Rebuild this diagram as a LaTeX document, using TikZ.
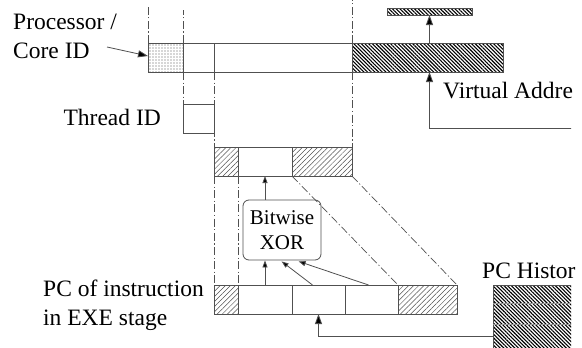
\documentclass[tikz,border=0pt]{standalone}
\usepackage{fontspec}
\setmainfont{Liberation Serif}
\usetikzlibrary{patterns.meta,arrows.meta,calc}
\definecolor{ln}{HTML}{505050}
\begin{document}
\begin{tikzpicture}[x=1pt,y=-1pt,
  cell/.style={draw=ln,line width=0.8pt,inner sep=0pt,outer sep=0pt,anchor=north west,minimum height=29pt},
  light/.style={pattern={Lines[angle=45,distance=3.6pt,line width=0.5pt]},pattern color=ln},
  dark/.style={pattern={Lines[angle=-45,distance=2.6pt,line width=1.1pt]},pattern color=black},
  dots/.style={pattern={Dots[distance=3pt,radius=0.55pt]},pattern color=ln},
  dd/.style={draw=ln,line width=0.7pt,dash pattern=on 8pt off 2.5pt on 1.2pt off 2.5pt},
  bigarrow/.style={draw=ln,line width=0.8pt,-{Triangle[length=10pt,width=7pt,fill=black]}},
  smallarrow/.style={draw=ln,line width=0.8pt,-{Triangle[length=7pt,width=5pt,fill=black]}},
  lbl/.style={inner sep=0pt,font=\fontsize{23.5}{29}\selectfont},
  xorbox/.style={draw=ln,line width=0.8pt,rounded corners=6pt,minimum width=78pt,minimum height=60pt,inner sep=0pt,align=center,font=\fontsize{21}{25}\selectfont}
]
\useasboundingbox (0,0) rectangle (582,348);
\begin{scope}
\clip (0,0) rectangle (571,348);
% top register
\node[cell,dots,minimum width=35pt] (pid) at (148,43) {};
\node[cell,minimum width=31pt] (c1) at (183,43) {};
\node[cell,minimum width=138pt] (c2) at (214,43) {};
\node[cell,dark,minimum width=151pt] (va) at (352,43) {};
\node[cell,dark,minimum width=85pt,minimum height=7pt] (vtop) at (387,8) {};
\node[cell,minimum width=31pt] (tid) at (183,104) {};
% middle register
\node[cell,light,minimum width=24pt] (m1) at (214,147) {};
\node[cell,minimum width=54pt] (m2) at (238,147) {};
\node[cell,light,minimum width=60pt] (m3) at (292,147) {};
% bottom register
\node[cell,light,minimum width=24pt] (b1) at (214,285) {};
\node[cell,minimum width=54pt] (b2) at (238,285) {};
\node[cell,minimum width=53pt] (b3) at (292,285) {};
\node[cell,minimum width=53pt] (b4) at (345,285) {};
\node[cell,light,minimum width=59pt] (b5) at (398,285) {};
% PC history
\node[cell,dark,minimum width=100pt,minimum height=70pt] (pch) at (493,285) {};
\draw[ln!60,line width=0.8pt] ($(pch.north west)+(0,18)$) -- ($(pch.north east)+(0,18)$);
\draw[ln!60,line width=0.8pt] ($(pch.north west)+(0,39)$) -- ($(pch.north east)+(0,39)$);
% xor
\node[xorbox] (xor) at (282,230) {Bitwise\\XOR};
% dash-dot projections
\draw[dd] (pid.north west) -- ++(0,-36);
\draw[dd] (pid.north east) -- ++(0,-33);
\draw[dd] (pid.south east) -- (tid.north west);
\draw[dd] (c1.south east) -- (m1.north west);
\draw[dd] (va.north west) -- ++(0,-43);
\draw[dd] (va.south west) -- (m3.north east);
\draw[dd] (m1.south west) -- (b1.north west);
\draw[dd] (m1.south east) -- (b1.north east);
\draw[dd] (m3.south west) -- (b5.north west);
\draw[dd] (m3.south east) -- (b5.north east);
% arrows
\coordinate (ptail) at (107,47);
\draw[bigarrow] (ptail) -- (148,56);
\draw[bigarrow] (vtop.south |- va.north) -- (vtop.south);
\coordinate (vain) at (600,128);
\draw[bigarrow] (vain) -| (vtop.south |- va.south);
\draw[bigarrow] ($(pch.north west)+(0,51)$) -| (b3.south);
\draw[smallarrow] (b2.north) -- (b2.north |- xor.south);
\draw[smallarrow] (b2.north |- xor.north) -- (m2.south);
\draw[smallarrow] ($(b3.north)+(-6,0)$) -- ($(xor.south west)+(39,1)$);
\draw[smallarrow] ($(b4.north)+(-3,0)$) -- ($(xor.south west)+(56,1)$);
\end{scope}
% labels
\node[lbl,anchor=base west,align=left] (plbl) at (13,58) {Processor /\\Core ID};
\node[lbl,anchor=base east] (tlbl) at (161,125) {Thread ID};
\node[lbl,anchor=base west,align=left] (pclbl) at (43,325) {PC of instruction\\in EXE stage};
\node[lbl,anchor=base west] (valbl) at (443,98) {Virtual Addre};
\node[lbl,anchor=base west] (pchlbl) at (482,278) {PC Histor};
\end{tikzpicture}
\end{document}
